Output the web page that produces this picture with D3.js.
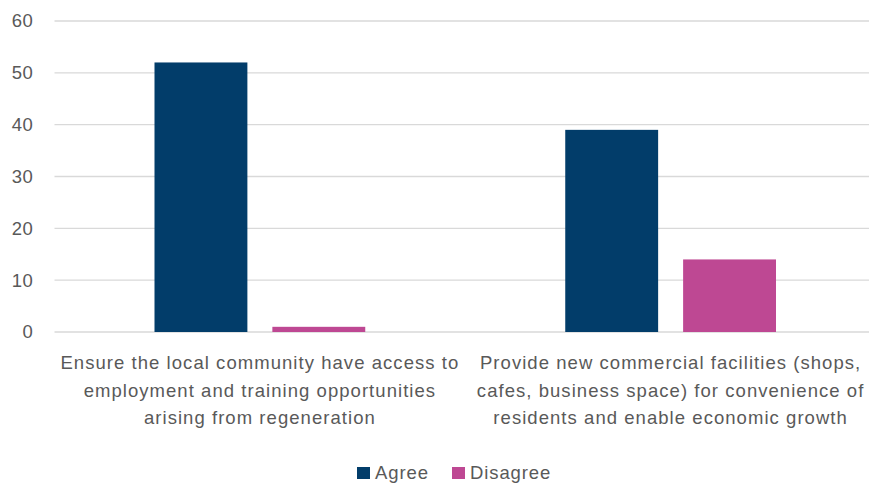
<!DOCTYPE html>
<html>
<head>
<meta charset="utf-8">
<script src="https://cdn.jsdelivr.net/npm/d3@7"></script>
<style>
  body { margin: 0; background: #fff; }
  svg { display: block; font-family: "Liberation Sans", Arial, sans-serif; }
</style>
</head>
<body>
<div id="chart"></div>
<script>
// data
const categories = [
    ["Ensure the local community have access to", "employment and training opportunities", "arising from regeneration"],
    ["Provide new commercial facilities (shops,", "cafes, business space) for convenience of", "residents and enable economic growth"]
];
const seriesNames = ["Agree", "Disagree"];
const agreeValues = [52, 39];
const disagreeValues = [1, 14];
const yTicks = [0, 10, 20, 30, 40, 50, 60];

const colours = {Agree: "#023d6a", Disagree: "#be4893"};

const width = 869, height = 484;
const margin = {top: 21, right: -7, bottom: 152, left: 54.5};
const innerW = width - margin.left - margin.right;
const innerH = height - margin.top - margin.bottom;

const svg = d3.select("#chart").append("svg")
    .attr("width", width)
    .attr("height", height);

const g = svg.append("g")
    .attr("transform", `translate(${margin.left},${margin.top})`);

const rows = categories.map((c, i) => ({
    id: i,
    label: c,
    Agree: agreeValues[i],
    Disagree: disagreeValues[i]
}));

const x0 = d3.scaleBand()
    .domain(rows.map(d => d.id))
    .range([0, innerW])
    .paddingInner(0)
    .paddingOuter(0);

// bars ~93px wide with ~25px between, ~100px outer gap
const x1 = d3.scaleBand()
    .domain(seriesNames)
    .range([100, x0.bandwidth() - 100])
    .paddingInner(0.212);

const y = d3.scaleLinear()
    .domain([0, 60])
    .range([innerH, 0]);

// gridlines
g.append("g")
    .selectAll("line")
    .data(yTicks)
    .join("line")
    .attr("x1", 0)
    .attr("x2", width - margin.left)
    .attr("y1", d => y(d))
    .attr("y2", d => y(d))
    .attr("stroke", "#d9d9d9")
    .attr("stroke-width", 1.3);

// y tick labels
const yAxis = g.append("g")
    .call(d3.axisLeft(y).tickValues(yTicks).tickSize(0).tickPadding(21));
yAxis.select(".domain").remove();
yAxis.selectAll("text")
    .attr("fill", "#595959")
    .style("font-size", "18.5px")
    .style("letter-spacing", "0.6px")
    .style("font-family", "Liberation Sans, Arial, sans-serif");

// bars
g.selectAll(".grp")
    .data(rows)
    .join("g")
    .attr("class", "grp")
    .attr("transform", d => `translate(${x0(d.id)},0)`)
    .selectAll("rect")
    .data(d => seriesNames.map(k => ({key: k, value: d[k]})))
    .join("rect")
    .attr("x", d => x1(d.key))
    .attr("width", x1.bandwidth())
    .attr("y", d => y(d.value))
    .attr("height", d => innerH - y(d.value))
    .attr("fill", d => colours[d.key]);

// category labels (three lines each)
rows.forEach(d => {
    const t = g.append("text")
        .attr("text-anchor", "middle")
        .attr("fill", "#595959")
        .style("font-size", "18.5px")
        .style("letter-spacing", "1.05px")
        .attr("transform", `translate(${x0(d.id) + x0.bandwidth() / 2},${innerH + 37})`);
    d.label.forEach((line, i) => {
        t.append("tspan")
            .attr("x", 0)
            .attr("y", i * 27.5)
            .text(line);
    });
});

// legend
const legend = svg.append("g")
    .attr("transform", `translate(0, 472)`);
const legendItems = [
    {key: "Agree", x: 357},
    {key: "Disagree", x: 452}
];
legendItems.forEach(item => {
    legend.append("rect")
        .attr("x", item.x)
        .attr("y", -5)
        .attr("width", 13)
        .attr("height", 12)
        .attr("fill", colours[item.key]);
    legend.append("text")
        .attr("x", item.x + 18)
        .attr("y", 7)
        .attr("fill", "#595959")
        .style("font-size", "18.5px")
        .style("letter-spacing", "0.9px")
        .text(item.key);
});
</script>
</body>
</html>
